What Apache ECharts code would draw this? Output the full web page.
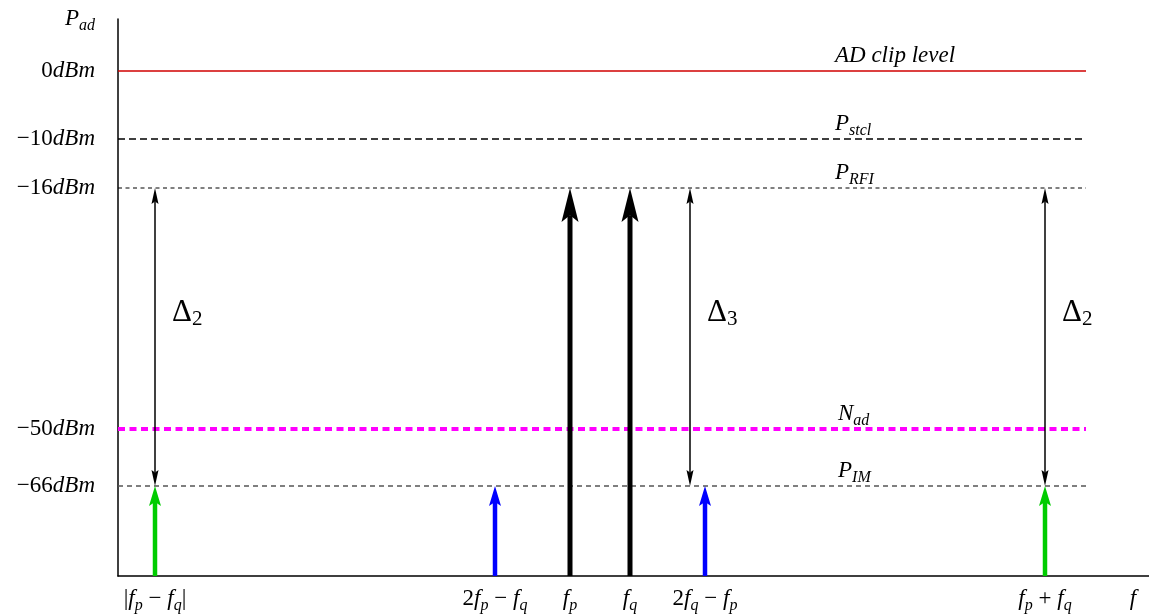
<!DOCTYPE html>
<html>
<head>
<meta charset="utf-8">
<script src="https://cdn.jsdelivr.net/npm/echarts@6.0.0/dist/echarts.min.js"></script>
<style>
  html, body { margin: 0; padding: 0; background: #fff; }
  #chart { width: 1149px; height: 614px; }
</style>
</head>
<body>
<div id="chart"></div>
<script>
// schematic spectrum: x and y are drawing units (not to scale), labels carry the real meaning
const levelTicks = ['0dBm', '−10dBm', '−16dBm', '−50dBm', '−66dBm'];
const levelPos = [505, 437, 388, 147, 90];
const levelTags = ['AD clip level', 'P_{stcl}', 'P_{RFI}', 'N_{ad}', 'P_{IM}'];
const tagX = [717, 717, 717, 720, 720];
const lineEnd = 968;

const toneX = [37, 377, 452, 512, 587, 927];
const toneTicks = ['|f_p − f_q|', '2f_p − f_q', 'f_p', 'f_q', '2f_q − f_p', 'f_p + f_q'];

// [x, from, to]
const carriers = [[452, 0, 388], [512, 0, 388]];
const im3 = [[377, 0, 90], [587, 0, 90]];
const im2 = [[37, 0, 90], [927, 0, 90]];
const deltas = [[37, 388, 90], [572, 388, 90], [927, 388, 90]];
const deltaTags = ['Δ_2', 'Δ_3', 'Δ_2'];
const deltaTagPos = 263;

const FAM = 'Liberation Serif';

// tiny latex-ish -> rich text: letters italic, rest upright, _x / _{xx} subscripts
function tex(s) {
  const parts = [];
  const add = (st, ch) => {
    const last = parts[parts.length - 1];
    if (last && last[0] === st) last[1] += ch; else parts.push([st, ch]);
  };
  const cls = ch => /[A-Za-z]/.test(ch) ? 'i' : 'r';
  let i = 0;
  while (i < s.length) {
    if (s[i] === '_') {
      let sub;
      if (s[i + 1] === '{') { const j = s.indexOf('}', i); sub = s.slice(i + 2, j); i = j + 1; }
      else { sub = s[i + 1]; i += 2; }
      for (const ch of sub) add('s' + cls(ch), ch);
    } else { add(cls(s[i]), s[i]); i++; }
  }
  return parts.map(p => '{' + p[0] + '|' + p[1] + '}').join('');
}

function richSet(F, S, LH, SLH) {
  return {
    i: { fontFamily: FAM, fontStyle: 'italic', fontSize: F, lineHeight: LH, color: '#000' },
    r: { fontFamily: FAM, fontSize: F, lineHeight: LH, color: '#000' },
    si: { fontFamily: FAM, fontStyle: 'italic', fontSize: S, lineHeight: SLH, verticalAlign: 'bottom', color: '#000' },
    sr: { fontFamily: FAM, fontSize: S, lineHeight: SLH, verticalAlign: 'bottom', color: '#000' }
  };
}
const richMain = richSet(23, 16, 30, 15);
const richDelta = richSet(31, 21, 34, 17);

const levelStyles = [
  { color: '#d00000', width: 1.6, type: 'solid' },
  { color: '#000', width: 1.3, type: [7, 4] },
  { color: '#000', width: 1, type: [4, 3.5] },
  { color: '#ff00ff', width: 4, type: [7, 4.5] },
  { color: '#555', width: 1.3, type: [5, 4] }
];

function arrowSeries(data, st, both) {
  return {
    type: 'custom',
    coordinateSystem: 'cartesian2d',
    data: data,
    silent: true,
    z: 5,
    encode: { x: 0, y: [1, 2] },
    renderItem: function (params, api) {
      const a = api.coord([api.value(0), api.value(1)]);
      const b = api.coord([api.value(0), api.value(2)]);
      const dx = b[0] - a[0], dy = b[1] - a[1];
      const len = Math.hypot(dx, dy), ux = dx / len, uy = dy / len;
      const head = (tip, sx, sy) => {
        const bx = tip[0] - sx * st.hl, by = tip[1] - sy * st.hl;
        const nx = -sy, ny = sx;
        const nb = [tip[0] - sx * st.hl * st.notch, tip[1] - sy * st.hl * st.notch];
        return {
          type: 'polygon',
          shape: { points: [tip, [bx + nx * st.hw / 2, by + ny * st.hw / 2], nb, [bx - nx * st.hw / 2, by - ny * st.hw / 2]] },
          style: { fill: st.color }
        };
      };
      let s = a;
      const e = [b[0] - ux * st.hl * st.notch, b[1] - uy * st.hl * st.notch];
      if (both) s = [a[0] + ux * st.hl * st.notch, a[1] + uy * st.hl * st.notch];
      const kids = [{
        type: 'line',
        shape: { x1: s[0], y1: s[1], x2: e[0], y2: e[1] },
        style: { stroke: st.color, lineWidth: st.width }
      }, head(b, ux, uy)];
      if (both) kids.push(head(a, -ux, -uy));
      return { type: 'group', children: kids };
    }
  };
}

const series = [];
levelPos.forEach((p, i) => {
  series.push({
    type: 'line',
    data: [[0, p], [lineEnd, p]],
    symbol: 'none',
    silent: true,
    z: 2,
    lineStyle: levelStyles[i]
  });
});
series.push(arrowSeries(carriers, { color: '#000', width: 5, hl: 34, hw: 17, notch: 0.8 }, false));
series.push(arrowSeries(im3, { color: '#0000ff', width: 4.5, hl: 20, hw: 12, notch: 0.8 }, false));
series.push(arrowSeries(im2, { color: '#00cc00', width: 4.5, hl: 20, hw: 12, notch: 0.8 }, false));
series.push(arrowSeries(deltas, { color: '#000', width: 1.5, hl: 16, hw: 7, notch: 0.85 }, true));

// level names above the lines
series.push({
  type: 'scatter',
  data: levelPos.map((p, i) => [tagX[i], p]),
  symbolSize: 0,
  itemStyle: { color: '#000', opacity: 1 },
  silent: true,
  z: 6,
  label: {
    show: true,
    color: '#000',
    position: [0, 0],
    align: 'left',
    verticalAlign: 'bottom',
    offset: [0, 0],
    formatter: p => tex(levelTags[p.dataIndex]),
    rich: richMain
  }
});
// delta labels next to the double arrows
series.push({
  type: 'scatter',
  data: deltas.map(d => [d[0], deltaTagPos]),
  symbolSize: 0,
  itemStyle: { color: '#000', opacity: 1 },
  silent: true,
  z: 6,
  label: {
    show: true,
    color: '#000',
    position: [0, 0],
    align: 'left',
    verticalAlign: 'middle',
    offset: [17, 0],
    formatter: p => tex(deltaTags[p.dataIndex]),
    rich: richDelta
  }
});

const chart = echarts.init(document.getElementById('chart'));
chart.setOption({
  animation: false,
  backgroundColor: '#fff',
  grid: { left: 118, right: 0, top: 19, bottom: 38 },
  xAxis: {
    type: 'value',
    min: 0,
    max: 1031,
    splitLine: { show: false },
    axisTick: { show: false },
    axisLine: { show: true, lineStyle: { color: '#000', width: 1.5 } },
    axisLabel: {
      customValues: toneX,
      margin: 8,
      formatter: v => tex(toneTicks[toneX.indexOf(v)]),
      rich: richMain
    },
    name: tex('f'),
    nameLocation: 'end',
    nameGap: -16,
    nameTextStyle: { align: 'center', verticalAlign: 'top', padding: [8, 0, 0, 0], rich: richMain }
  },
  yAxis: {
    type: 'value',
    min: 0,
    max: 557,
    splitLine: { show: false },
    axisTick: { show: false },
    axisLine: { show: true, lineStyle: { color: '#000', width: 1.5 } },
    axisLabel: {
      customValues: levelPos,
      margin: 23,
      formatter: v => tex(levelTicks[levelPos.indexOf(v)]),
      rich: richMain
    },
    name: tex('P_{ad}'),
    nameLocation: 'end',
    nameGap: 0,
    nameTextStyle: { align: 'right', verticalAlign: 'middle', padding: [0, 23, 0, 0], rich: richMain }
  },
  series: series
});
</script>
</body>
</html>
